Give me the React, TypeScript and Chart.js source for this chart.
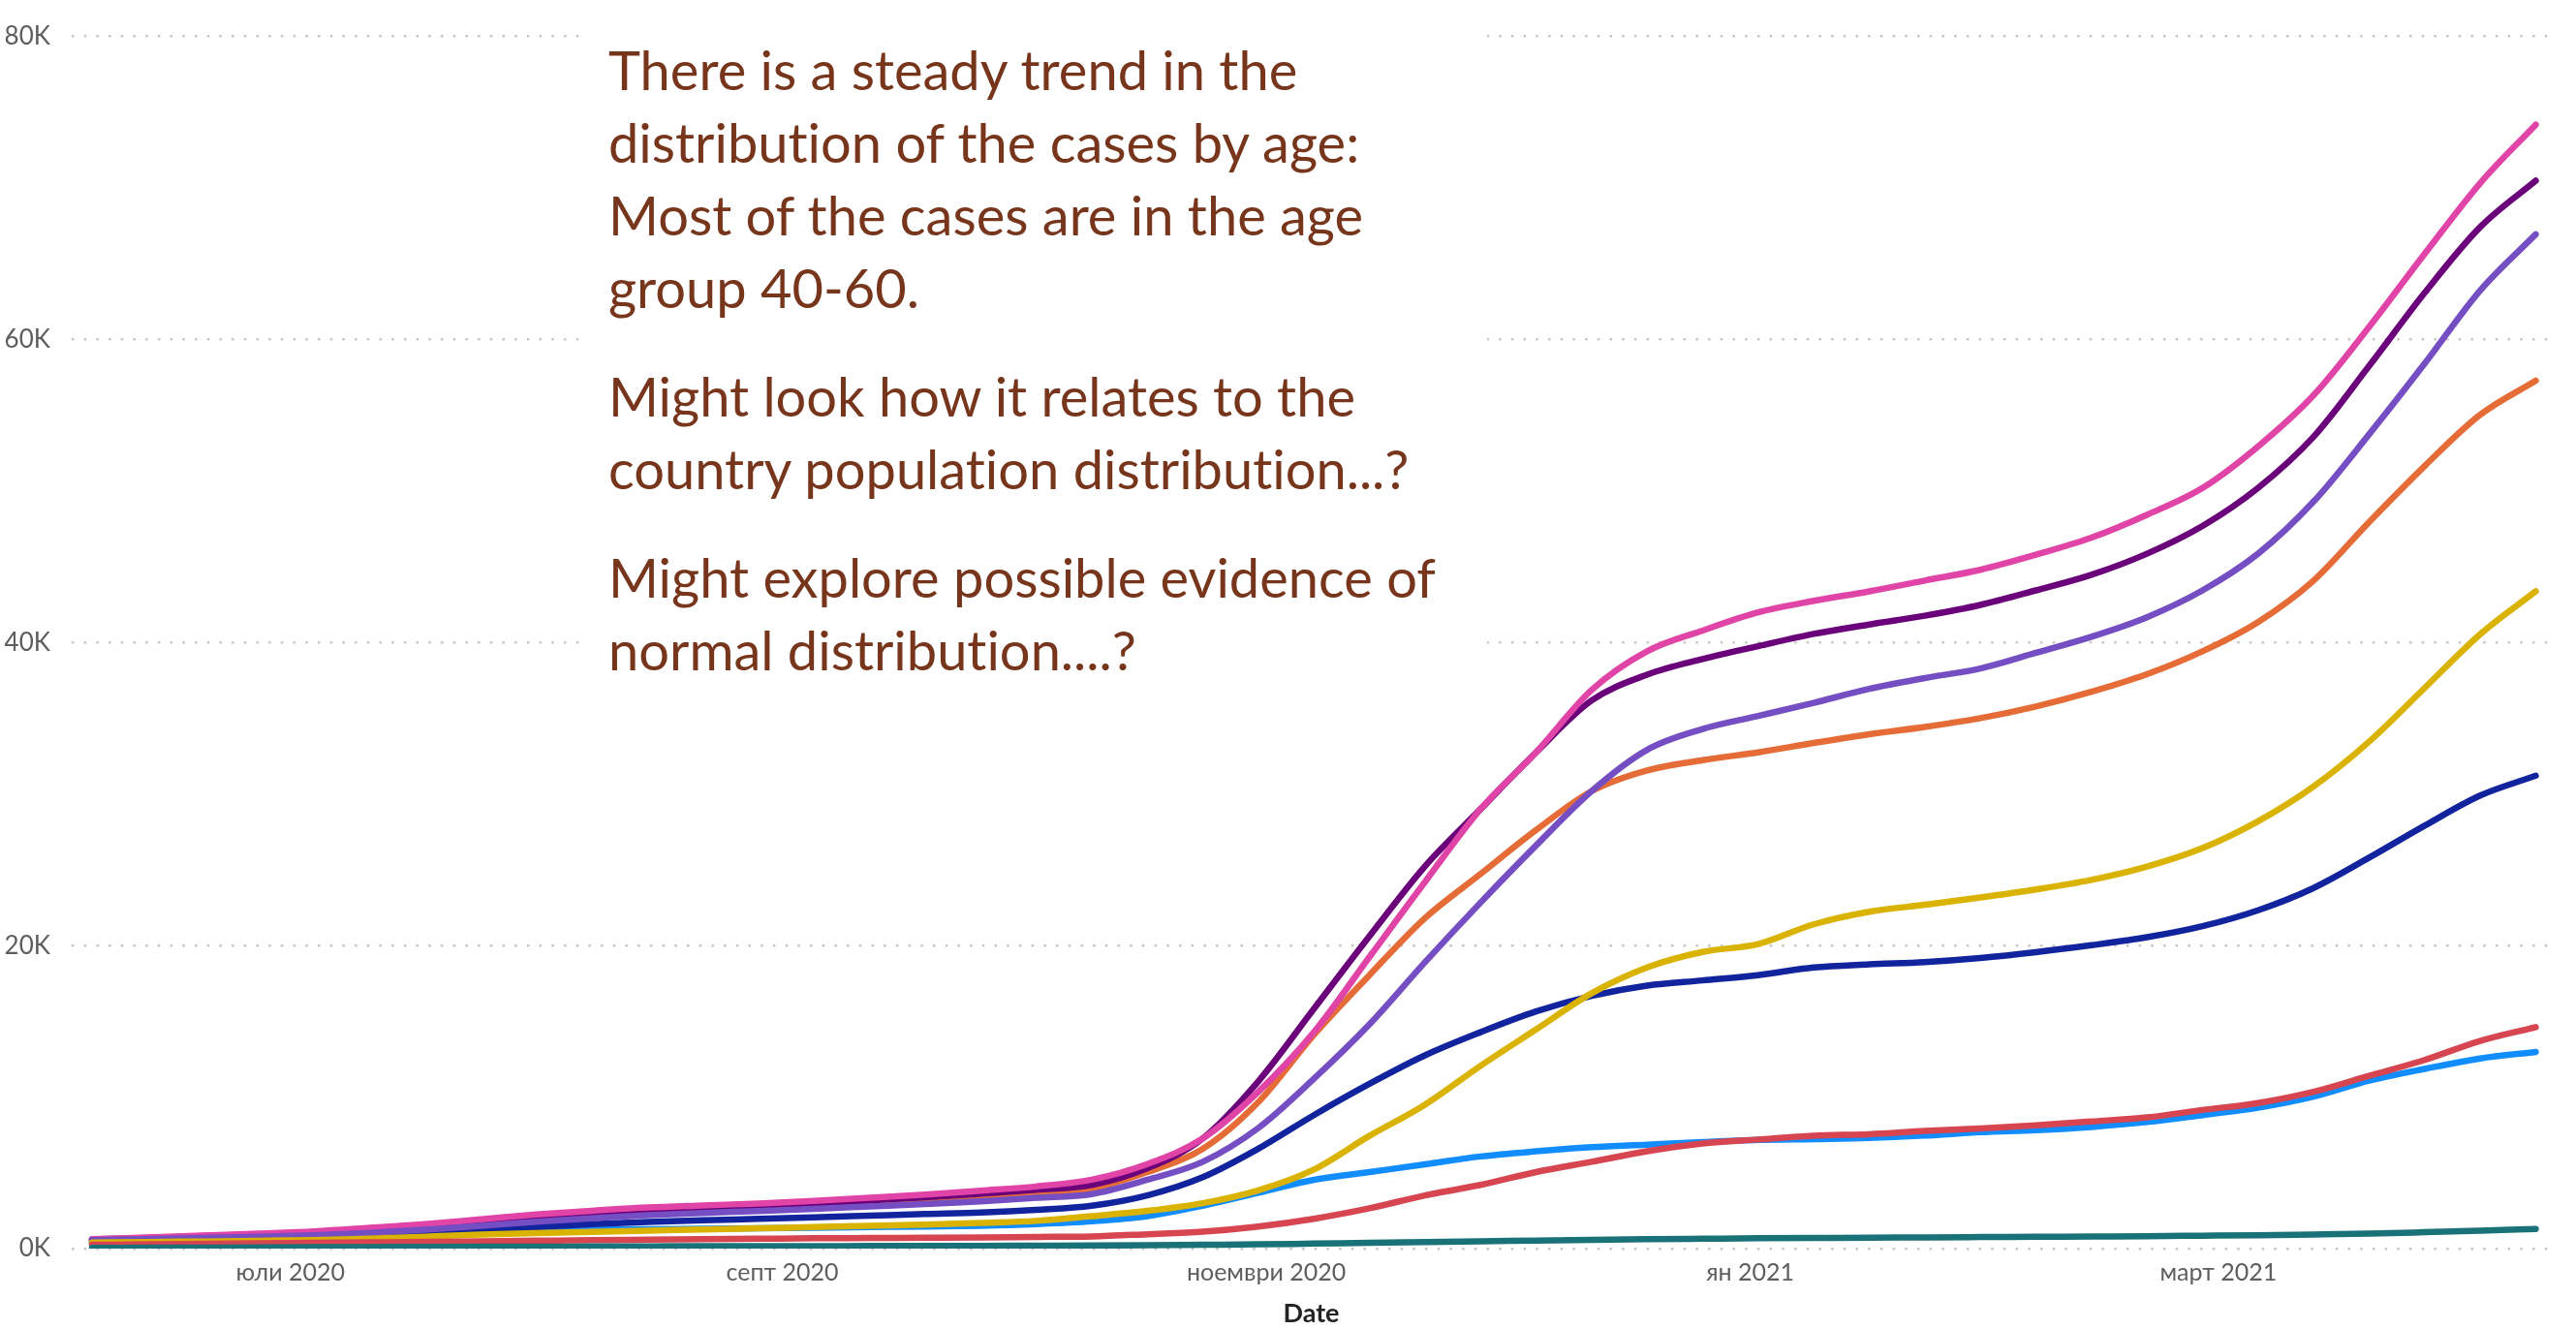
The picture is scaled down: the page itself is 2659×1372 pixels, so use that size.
import React, { useEffect, useRef } from 'react';
import { Chart, registerables } from 'chart.js';

Chart.register(...registerables);

// ---------- data ----------
const START_DATE = '2020-06-06';

const DATES = [
  '2020-06-06', '2020-06-13', '2020-06-20', '2020-06-27', '2020-07-04', '2020-07-11', '2020-07-18', '2020-07-25',
  '2020-08-01', '2020-08-08', '2020-08-15', '2020-08-22', '2020-08-29', '2020-09-05', '2020-09-12', '2020-09-19',
  '2020-09-26', '2020-10-03', '2020-10-10', '2020-10-17', '2020-10-24', '2020-10-31', '2020-11-07', '2020-11-14',
  '2020-11-21', '2020-11-28', '2020-12-05', '2020-12-12', '2020-12-19', '2020-12-26', '2021-01-02', '2021-01-09',
  '2021-01-16', '2021-01-23', '2021-01-30', '2021-02-06', '2021-02-13', '2021-02-20', '2021-02-27', '2021-03-06',
  '2021-03-13', '2021-03-20', '2021-03-27', '2021-04-03', '2021-04-10',
];

const TICK_DATES = ['2020-07-01', '2020-09-01', '2020-11-01', '2021-01-01', '2021-03-01'];
const TICK_LABELS = ['юли 2020', 'септ 2020', 'ноември 2020', 'ян 2021', 'март 2021'];

const Y_TICKS = [0, 20000, 40000, 60000, 80000];

const SERIES_NAMES = ['0-19', '20-29', '30-39', '40-49', '50-59', '60-69', '70-79', '80-89', '90+'];
const SERIES_COLORS = ['#118DFF', '#12239E', '#E66C37', '#6B007B', '#E044A7', '#744EC2', '#D9B300', '#D64550', '#197278'];

const AGE_0_19 = [
  360, 400, 450, 510, 600, 740, 900, 1070, 1170, 1240, 1280, 1310, 1350, 1380, 1420, 1460,
  1510, 1620, 1800, 2140, 2830, 3680, 4540, 5050, 5560, 6080, 6420, 6690, 6860, 7030, 7170, 7230,
  7300, 7460, 7680, 7820, 8030, 8350, 8810, 9300, 10030, 11080, 11860, 12550, 12980,
];
const AGE_20_29 = [
  470, 540, 610, 680, 760, 880, 1000, 1200, 1420, 1620, 1760, 1870, 1960, 2060, 2170, 2280,
  2380, 2560, 2830, 3510, 4710, 6590, 8810, 10870, 12750, 14280, 15650, 16680, 17360, 17700, 18050, 18550,
  18760, 18910, 19180, 19560, 20020, 20550, 21280, 22330, 23800, 25800, 27910, 29900, 31210,
];
const AGE_30_39 = [
  560, 680, 790, 910, 1040, 1250, 1490, 1770, 2050, 2270, 2460, 2600, 2720, 2870, 3050, 3250,
  3480, 3720, 3980, 5050, 6590, 9670, 14110, 18050, 21810, 24720, 27620, 30190, 31560, 32240, 32750, 33370,
  33950, 34430, 35010, 35780, 36750, 37910, 39420, 41350, 44090, 47950, 51650, 55030, 57280,
];
const AGE_40_49 = [
  600, 710, 830, 950, 1090, 1310, 1550, 1840, 2130, 2360, 2560, 2700, 2830, 2990, 3180, 3380,
  3620, 3880, 4200, 5300, 7270, 11040, 15820, 20610, 25230, 29000, 32750, 36170, 37880, 38910, 39760, 40570,
  41190, 41770, 42480, 43440, 44470, 45860, 47690, 50200, 53580, 58250, 63080, 67420, 70480,
];
const AGE_50_59 = [
  620, 735, 860, 990, 1135, 1370, 1620, 1935, 2250, 2500, 2710, 2850, 2980, 3150, 3350, 3560,
  3820, 4100, 4550, 5580, 7270, 10350, 14280, 19240, 24200, 29000, 32750, 36860, 39420, 40790, 41990, 42750,
  43380, 44090, 44800, 45790, 46920, 48430, 50200, 52940, 56320, 60830, 65650, 70320, 74180,
];
const AGE_60_69 = [
  560, 630, 700, 780, 880, 1040, 1240, 1500, 1780, 2000, 2200, 2350, 2480, 2620, 2780, 2940,
  3120, 3350, 3600, 4540, 5730, 7960, 11210, 14800, 18900, 22830, 26600, 30190, 32920, 34290, 35150, 36020,
  36940, 37650, 38290, 39320, 40380, 41670, 43440, 45860, 49300, 53740, 58410, 63240, 66940,
];
const AGE_70_79 = [
  400, 430, 470, 510, 560, 650, 790, 920, 1020, 1110, 1190, 1260, 1340, 1420, 1500, 1590,
  1700, 1830, 2140, 2490, 3000, 3850, 5220, 7440, 9500, 12060, 14460, 16850, 18560, 19580, 20100, 21400,
  22230, 22690, 23170, 23700, 24330, 25210, 26430, 28200, 30500, 33460, 37000, 40550, 43380,
];
const AGE_80_89 = [
  250, 290, 320, 350, 380, 410, 440, 480, 520, 560, 590, 620, 650, 680, 700, 720,
  740, 770, 800, 950, 1120, 1460, 1970, 2660, 3510, 4200, 5050, 5730, 6420, 6930, 7200, 7450,
  7550, 7760, 7930, 8140, 8390, 8660, 9150, 9610, 10350, 11400, 12450, 13710, 14620,
];
const AGE_90_PLUS = [
  50, 60, 70, 80, 90, 100, 110, 120, 130, 140, 150, 155, 160, 165, 170, 175,
  180, 190, 200, 220, 250, 280, 330, 380, 430, 480, 530, 580, 620, 650, 680, 700,
  715, 740, 760, 780, 800, 820, 850, 880, 930, 990, 1080, 1180, 1300,
];

const SERIES_VALUES = [AGE_0_19, AGE_20_29, AGE_30_39, AGE_40_49, AGE_50_59, AGE_60_69, AGE_70_79, AGE_80_89, AGE_90_PLUS];

const NOTE_PARAGRAPHS = [
  ['There is a steady trend in the', 'distribution of the cases by age:', 'Most of the cases are in the age', 'group 40-60.'],
  ['Might look how it relates to the', 'country population distribution...?'],
  ['Might explore possible evidence of', 'normal distribution....?'],
];

// ---------- helpers ----------
const DAY_MS = 86400000;
const dayOf = (iso: string) => (Date.parse(iso) - Date.parse(START_DATE)) / DAY_MS;

const FONT_FAMILY = "'Segoe UI', Lato, 'Open Sans', sans-serif";
const LABEL_COLOR = '#605E5C';
const NOTE_COLOR = '#77361C';

export default function App() {
  const canvasRef = useRef<HTMLCanvasElement | null>(null);

  useEffect(() => {
    const canvas = canvasRef.current;
    if (!canvas) return;

    const datasets = SERIES_NAMES.map((name, i) => ({
      label: name,
      data: DATES.map((d, j) => ({ x: dayOf(d), y: SERIES_VALUES[i][j] })),
      borderColor: SERIES_COLORS[i],
      backgroundColor: SERIES_COLORS[i],
      borderWidth: 6.5,
      pointRadius: 0,
      pointHoverRadius: 0,
      cubicInterpolationMode: 'monotone' as const,
      borderCapStyle: 'round' as const,
      borderJoinStyle: 'round' as const,
      fill: false,
      order: SERIES_NAMES.length - i,
    }));

    const chart = new Chart(canvas, {
      type: 'line',
      data: { datasets },
      options: {
        animation: false,
        responsive: false,
        maintainAspectRatio: false,
        events: [],
        layout: { padding: { top: 21, right: 26, bottom: 0, left: 0 } },
        plugins: {
          legend: { display: false },
          tooltip: { enabled: false },
        },
        scales: {
          x: {
            type: 'linear',
            min: -2.56,
            max: 309.9,
            grid: { display: false, drawTicks: false },
            border: { display: false },
            afterBuildTicks: (scale: any) => {
              scale.ticks = TICK_DATES.map((d) => ({ value: dayOf(d) }));
            },
            afterFit: (scale: any) => {
              scale.height = 83;
            },
            ticks: {
              autoSkip: false,
              maxRotation: 0,
              minRotation: 0,
              padding: 10,
              color: LABEL_COLOR,
              font: { family: FONT_FAMILY, size: 25 },
              callback: (_v: any, index: number) => TICK_LABELS[index],
            },
            title: {
              display: true,
              text: 'Date',
              color: '#252423',
              padding: { top: 0, bottom: 0 },
              font: { family: FONT_FAMILY, size: 27, weight: 'bold' },
            },
          },
          y: {
            type: 'linear',
            min: 0,
            max: 80000,
            afterBuildTicks: (scale: any) => {
              scale.ticks = Y_TICKS.map((v) => ({ value: v }));
            },
            afterFit: (scale: any) => {
              scale.width = 74;
            },
            grid: {
              color: '#C8C6C4',
              lineWidth: 2.5,
              drawTicks: false,
            },
            border: { display: false, dash: [2.5, 10.2] },
            ticks: {
              padding: 22,
              color: LABEL_COLOR,
              font: { family: FONT_FAMILY, size: 26 },
              callback: (v: any) => `${Number(v) / 1000}K`,
            },
          },
        },
      },
    });

    return () => {
      chart.destroy();
    };
  }, []);

  return (
    <div
      style={{
        position: 'fixed',
        left: 0,
        top: 0,
        width: 2659,
        height: 1372,
        background: '#ffffff',
        overflow: 'hidden',
      }}
    >
      <canvas
        ref={canvasRef}
        width={2659}
        height={1372}
        style={{ position: 'absolute', left: 0, top: 0, width: 2659, height: 1372, display: 'block' }}
      />
      <div
        style={{
          position: 'absolute',
          left: 603,
          top: 28,
          width: 932,
          height: 707,
          background: '#ffffff',
          boxSizing: 'border-box',
          paddingLeft: 25,
          paddingTop: 6,
          fontFamily: FONT_FAMILY,
          fontSize: 56,
          lineHeight: '75px',
          color: NOTE_COLOR,
          fontVariantLigatures: 'none',
          fontFeatureSettings: '"liga" 0, "clig" 0',
        }}
      >
        {NOTE_PARAGRAPHS.map((lines, p) => (
          <div key={p} style={{ marginTop: p === 0 ? 0 : 37 }}>
            {lines.map((line, k) => (
              <div key={k} style={{ whiteSpace: 'nowrap' }}>
                {line}
              </div>
            ))}
          </div>
        ))}
      </div>
    </div>
  );
}
